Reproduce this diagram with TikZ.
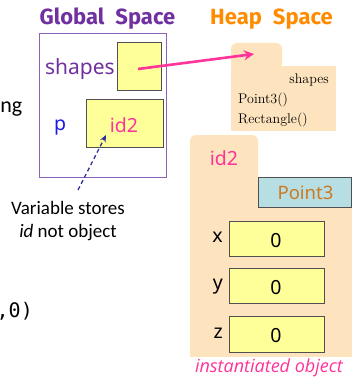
\documentclass[tikz,border=0pt]{standalone}
\usepackage{fontspec}
\setmainfont{Latin Modern Roman}
\newfontfamily\titlef{Fira Sans}
\newfontfamily\labf{Noto Sans}
\newfontfamily\calf{Carlito}
\newfontfamily\itf{Open Sans}
\newfontfamily\monof{DejaVu Sans Mono}
\usetikzlibrary{arrows.meta}
\definecolor{gpurple}{HTML}{7030A0}
\definecolor{bpurple}{HTML}{8A63B8}
\definecolor{hporange}{HTML}{FF8C00}
\definecolor{peach}{HTML}{FDE3BE}
\definecolor{yel}{HTML}{FFFF99}
\definecolor{pblue}{HTML}{1A1AE6}
\definecolor{mag}{HTML}{FF3399}
\definecolor{lblue}{HTML}{B7DEE3}
\definecolor{p3col}{HTML}{CC7A22}
\definecolor{navy}{HTML}{2E3192}
\definecolor{bordr}{HTML}{505050}
\tikzset{
  title/.style={font=\titlef\bfseries\fontsize{22}{25}\selectfont, anchor=base, inner sep=0pt},
  lab/.style={font=\labf\fontsize{19.5}{22}\selectfont, inner sep=0pt},
  valbox/.style={fill=yel, draw=bordr, line width=0.9pt},
  heapt/.style={font=\fontsize{14}{16}\selectfont, inner sep=0pt},
}
\begin{document}
\begin{tikzpicture}[x=1pt,y=-1pt]
\useasboundingbox (0,0) rectangle (352,377);
% titles
\node[title, text=gpurple] (gtitle) at (107.5,25) {Global\hspace{0.5em}Space};
\node[title, text=hporange] (htitle) at (271.5,25) {Heap\hspace{0.5em}Space};
% global frame
\draw[bpurple, line width=0.9pt] (39,33) rectangle (166,177);
% shapes box
\draw[valbox] (117,42) rectangle (161,90);
\node[lab, text=gpurple, anchor=base east, font=\labf\fontsize{21}{24}\selectfont] (shapesl) at (115,75) {shapes};
\coordinate (sbox) at (138,69);
% id2 box
\draw[valbox] (86,99) rectangle (163,147);
\node[lab, text=mag, anchor=base] (id2v) at (124,132) {id2};
\node[lab, text=pblue, anchor=base] (pl) at (60,131) {p};
% left partial texts
\node[font=\calf\fontsize{22}{24}\selectfont, anchor=base east, inner sep=0pt] (ng) at (22.5,113) {ng};
\node[font=\monof\fontsize{20}{22}\selectfont, anchor=base east, inner sep=0pt] (code) at (33,317) {,0)};
% comment
\node[font=\calf\fontsize{19}{23}\selectfont, align=center, anchor=north, inner sep=0pt] (note) at (68,201) {Variable stores\\\textit{id} not object};
\coordinate (dstart) at (78,190);
\coordinate (dend) at (106,135);
\draw[navy, line width=1.3pt, dash pattern=on 4pt off 3pt, -{Stealth[length=7pt,width=6pt]}] (dstart) -- (dend);
% heap folder 1
\fill[peach, rounded corners=6pt] (231,70) -- (231,43) -- (282,43) -- (282,70) -- cycle;
\fill[peach] (231,66) rectangle (336,131);
\node[heapt, anchor=base east] (h1) at (329,84) {shapes};
\node[heapt, anchor=base west] (h2) at (238,103) {Point3()};
\node[heapt, anchor=base west] (h3) at (238,123) {Rectangle()};
\coordinate (htip) at (254,54);
\draw[mag, line width=2.6pt, -{Stealth[length=10pt,width=10pt]}] (sbox) -- (htip);
% heap folder 2
\fill[peach, rounded corners=6pt] (190,185) -- (190,135) -- (258,135) -- (258,185) -- cycle;
\fill[peach] (190,177) rectangle (352,357);
\node[lab, text=mag, anchor=base] (id2t) at (224,165) {id2};
\draw[fill=lblue, draw=bordr, line width=0.9pt] (258,177) rectangle (351.5,207);
\node[lab, text=p3col, anchor=base, font=\labf\fontsize{18.5}{21}\selectfont] (p3) at (305.5,199) {Point3};
% fields
\draw[valbox] (229,221) rectangle (324,256);
\draw[valbox] (229,268) rectangle (324,303);
\draw[valbox] (229,316) rectangle (324,352);
\node[lab, anchor=base east] (xl) at (223,242) {x};
\node[lab, anchor=base east] (yl) at (223,289) {y};
\node[lab, anchor=base east] (zl) at (223,338) {z};
\node[lab, anchor=base] (x0) at (276,247) {0};
\node[lab, anchor=base] (y0) at (276,294) {0};
\node[lab, anchor=base] (z0) at (276,342) {0};
\node[font=\itf\itshape\fontsize{18}{20}\selectfont, text=mag, anchor=base, inner sep=0pt] (inst) at (269,372) {instantiated object};
\end{tikzpicture}
\end{document}
